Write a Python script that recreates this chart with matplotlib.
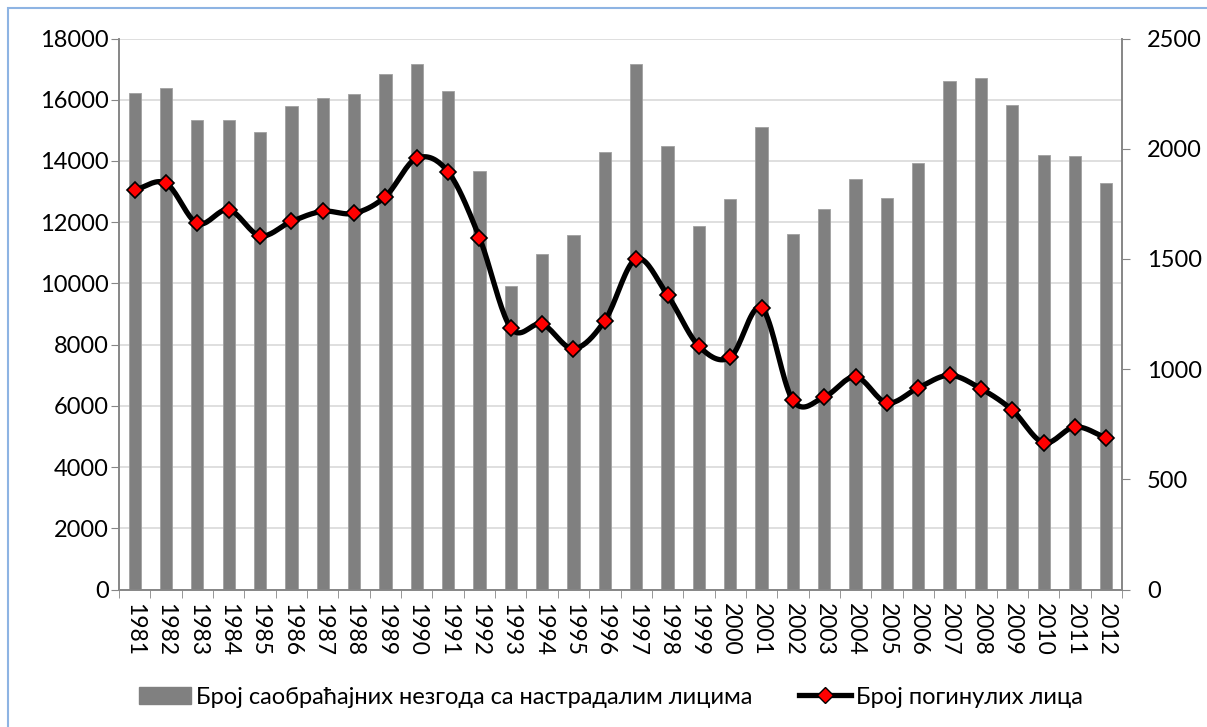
import numpy as np
import matplotlib
matplotlib.use("Agg")
import matplotlib.pyplot as plt
from matplotlib.patches import Rectangle
from matplotlib.lines import Line2D

plt.rcParams['font.family'] = ['Lato', 'DejaVu Sans']

years = list(range(1981, 2013))
accidents = [16220, 16370, 15340, 15350, 14960, 15810, 16070, 16190, 16830, 17160,
             16300, 13670, 9900, 10970, 11580, 14300, 17160, 14500, 11880, 12770,
             15120, 11600, 12440, 13400, 12780, 13940, 16620, 16700, 15840, 14200,
             14150, 13280]
killed = [1813, 1843, 1661, 1723, 1605, 1670, 1716, 1707, 1783, 1957,
          1895, 1597, 1187, 1204, 1093, 1220, 1500, 1335, 1104, 1053,
          1278, 858, 873, 965, 847, 915, 972, 911, 814, 666,
          738, 688]

label_bars = "Број саобраћајних незгода са настрадалим лицима"
label_line = "Број погинулих лица"


def smooth(x, y, n=20):
    # catmull-rom through the points, roughly what excel's "smoothed line" does
    x = np.asarray(x, float)
    y = np.asarray(y, float)
    px = np.concatenate([[2 * x[0] - x[1]], x, [2 * x[-1] - x[-2]]])
    py = np.concatenate([[2 * y[0] - y[1]], y, [2 * y[-1] - y[-2]]])
    t = np.linspace(0, 1, n, endpoint=False)
    xs, ys = [], []
    for i in range(1, len(px) - 2):
        for p, out in ((px, xs), (py, ys)):
            p0, p1, p2, p3 = p[i - 1], p[i], p[i + 1], p[i + 2]
            out.extend(0.5 * (2 * p1 + (-p0 + p2) * t
                              + (2 * p0 - 5 * p1 + 4 * p2 - p3) * t ** 2
                              + (-p0 + 3 * p1 - 3 * p2 + p3) * t ** 3))
    xs.append(x[-1])
    ys.append(y[-1])
    return np.array(xs), np.array(ys)


fig = plt.figure(figsize=(12.07, 7.27), dpi=100)
fig.patches.append(Rectangle((8 / 1207, -0.1), 1.2, 1 - 8 / 727 + 0.1,
                             transform=fig.transFigure, fill=False,
                             edgecolor='#8EB4E3', linewidth=1.5))

ax = fig.add_axes([119 / 1207, 1 - 589.5 / 727, (1122 - 119) / 1207, (589.5 - 38.5) / 727])
ax2 = ax.twinx()

x = np.arange(len(years))
ax.bar(x, accidents, width=0.39, color='#808080', edgecolor='#A0A0A0', linewidth=0.6, zorder=2)
ax.set_ylim(0, 18000)
ax.set_yticks(range(0, 18001, 2000))
ax.set_xlim(-0.5, len(years) - 0.5)
ax.set_xticks(x)
ax.set_xticklabels([str(y) for y in years], rotation=-90)
ax.set_xticks(np.arange(-0.5, len(years)), minor=True)
ax.tick_params(axis='x', which='major', length=0, pad=10, labelsize=16.5)
ax.tick_params(axis='x', which='minor', length=6, color='#868686')
ax.tick_params(axis='y', length=6, color='#868686', pad=1.5, labelsize=17)
ax.grid(axis='y', color='#D9D9D9', linewidth=1.2, zorder=0)
ax.set_axisbelow(True)

sx, sy = smooth(x, killed)
ax2.plot(sx, sy, color='black', linewidth=3.8, solid_capstyle='round', zorder=3)
ax2.plot(x, killed, linestyle='none', marker='D', markersize=8.5,
         markerfacecolor='#FF0000', markeredgecolor='black', markeredgewidth=1.2, zorder=4)
ax2.set_ylim(0, 2500)
ax2.set_yticks(range(0, 2501, 500))
ax2.tick_params(axis='y', length=6, color='#868686', pad=12, labelsize=17)

for a in (ax, ax2):
    a.spines['top'].set_visible(False)
    for s in ('left', 'right', 'bottom'):
        a.spines[s].set_color('#868686')
        a.spines[s].set_linewidth(1.2)

handles = [Rectangle((0, 0), 1, 1, color='#808080'),
           Line2D([], [], color='black', linewidth=3.8, marker='D', markersize=8.5,
                  markerfacecolor='#FF0000', markeredgecolor='black')]
fig.legend(handles, [label_bars, label_line], loc='center', ncol=2,
           bbox_to_anchor=(0.506, 1 - 697 / 727), frameon=False, fontsize=17,
           handlelength=2.2, handletextpad=0.2, columnspacing=2.0)

fig.savefig('out.png', dpi=100)
